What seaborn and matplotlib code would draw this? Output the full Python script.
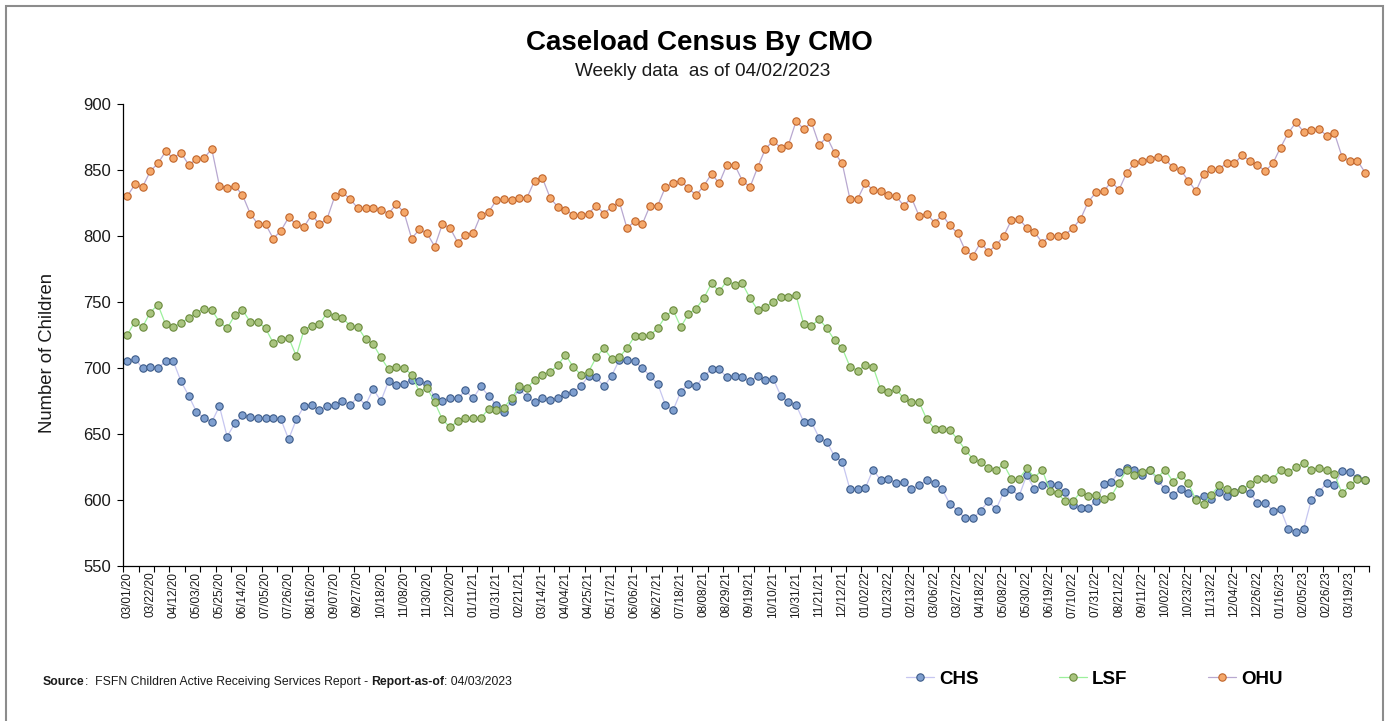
import numpy as np
import matplotlib.pyplot as plt
import pandas as pd
import seaborn as sns
from matplotlib.patches import Rectangle

# --- Weekly census values (03/01/20 .. 04/02/23) ---
chs = [705, 707, 700, 701, 700, 705, 705, 690, 679, 667, 662, 659, 671, 648, 658, 664, 663, 662, 662, 662,
       661, 646, 661, 671, 672, 668, 671, 672, 675, 672, 678, 672, 684, 675, 690, 687, 688, 691, 690, 688,
       678, 675, 677, 677, 683, 677, 686, 679, 672, 667, 675, 684, 678, 674, 677, 676, 677, 680, 682, 686,
       694, 693, 686, 694, 706, 706, 705, 700, 694, 688, 672, 668, 682, 688, 686, 694, 699, 699, 693, 694,
       693, 690, 694, 691, 692, 679, 674, 672, 659, 659, 647, 644, 633, 629, 608, 608, 609, 623, 615, 616,
       613, 614, 608, 611, 615, 613, 608, 597, 592, 586, 586, 592, 599, 593, 606, 608, 603, 619, 608, 611,
       612, 611, 606, 596, 594, 594, 599, 612, 614, 621, 624, 623, 619, 623, 615, 608, 604, 608, 605, 601,
       603, 601, 606, 603, 606, 608, 605, 598, 598, 592, 593, 578, 576, 578, 600, 606, 613, 611, 622, 621,
       617, 615]
lsf = [725, 735, 731, 742, 748, 733, 731, 734, 738, 742, 745, 744, 735, 730, 740, 744, 735, 735, 730, 719,
       722, 723, 709, 729, 732, 733, 742, 739, 738, 732, 731, 722, 718, 708, 699, 701, 700, 695, 682, 685,
       674, 661, 655, 660, 662, 662, 662, 669, 668, 670, 677, 686, 685, 691, 695, 697, 702, 710, 701, 695,
       697, 708, 715, 707, 708, 715, 724, 724, 725, 730, 739, 744, 731, 741, 745, 753, 764, 758, 766, 763,
       764, 753, 744, 746, 750, 754, 754, 755, 733, 732, 737, 730, 721, 715, 701, 698, 702, 701, 684, 682,
       684, 677, 674, 674, 661, 654, 654, 653, 646, 638, 631, 629, 624, 623, 627, 616, 616, 624, 617, 623,
       607, 605, 599, 599, 606, 603, 604, 601, 603, 613, 623, 619, 621, 623, 617, 623, 614, 619, 613, 600,
       597, 604, 611, 608, 606, 608, 612, 616, 617, 616, 623, 621, 625, 628, 623, 624, 623, 620, 605, 611,
       616, 615]
ohu = [830, 839, 837, 849, 855, 864, 859, 863, 854, 858, 859, 866, 838, 836, 838, 831, 817, 809, 809, 798,
       804, 814, 809, 807, 816, 809, 813, 830, 833, 828, 821, 821, 821, 820, 817, 824, 818, 798, 805, 802,
       792, 809, 806, 795, 801, 802, 816, 818, 827, 828, 827, 829, 829, 842, 844, 829, 822, 820, 816, 816,
       817, 823, 817, 822, 826, 806, 811, 809, 823, 823, 837, 840, 842, 836, 831, 838, 847, 840, 854, 854,
       842, 837, 852, 866, 872, 867, 869, 887, 881, 886, 869, 875, 863, 855, 828, 828, 840, 835, 834, 831,
       830, 823, 829, 815, 817, 810, 816, 808, 802, 789, 785, 795, 788, 793, 800, 812, 813, 806, 803, 795,
       800, 800, 801, 806, 813, 826, 833, 834, 841, 835, 848, 855, 857, 858, 860, 858, 852, 850, 842, 834,
       847, 851, 851, 855, 855, 861, 857, 854, 849, 855, 867, 878, 886, 879, 880, 881, 876, 878, 860, 857,
       857, 848]

# every third week is labelled on the axis
tick_labels = ["03/01/20", "03/22/20", "04/12/20", "05/03/20", "05/25/20", "06/14/20", "07/05/20",
               "07/26/20", "08/16/20", "09/07/20", "09/27/20", "10/18/20", "11/08/20", "11/30/20",
               "12/20/20", "01/11/21", "01/31/21", "02/21/21", "03/14/21", "04/04/21", "04/25/21",
               "05/17/21", "06/06/21", "06/27/21", "07/18/21", "08/08/21", "08/29/21", "09/19/21",
               "10/10/21", "10/31/21", "11/21/21", "12/12/21", "01/02/22", "01/23/22", "02/13/22",
               "03/06/22", "03/27/22", "04/18/22", "05/08/22", "05/30/22", "06/19/22", "07/10/22",
               "07/31/22", "08/21/22", "09/11/22", "10/02/22", "10/23/22", "11/13/22", "12/04/22",
               "12/26/22", "01/16/23", "02/05/23", "02/26/23", "03/19/23"]

df = pd.DataFrame({"week": np.arange(len(chs)), "CHS": chs, "LSF": lsf, "OHU": ohu})

sns.set_theme(style="white")
plt.rcParams["font.family"] = ["Liberation Sans", "DejaVu Sans"]
text_col = "#1a1a1a"

fig = plt.figure(figsize=(13.87, 7.21), dpi=100)
ax = fig.add_axes([0.0889, 0.215, 0.8981, 0.6408])

styles = {
    "CHS": dict(color="#c6c6f0", markerfacecolor="#7f9fcf", markeredgecolor="#3b5a88"),
    "LSF": dict(color="#9cf09c", markerfacecolor="#a9c47f", markeredgecolor="#6a8a3c"),
    "OHU": dict(color="#b8a8d0", markerfacecolor="#f5a86a", markeredgecolor="#c0652b"),
}
for name in ["CHS", "LSF", "OHU"]:
    sns.lineplot(data=df, x="week", y=name, ax=ax, label=name, marker="o",
                 markersize=5.3, markeredgewidth=0.8, linewidth=0.9, **styles[name])

ax.set_xlim(-0.5, len(chs) - 0.5)
ax.set_ylim(550, 900)
ax.set_yticks(range(550, 901, 50))
ax.set_xticks(np.arange(0, len(chs), 3))
ax.set_xticklabels(tick_labels, rotation=90)
ax.set_xticks(np.arange(-0.5, len(chs), 2), minor=True)
ax.set_xlabel("")
ax.set_ylabel("")

ax.tick_params(axis="x", which="major", length=0, pad=4, labelsize=8.5, labelcolor=text_col)
ax.tick_params(axis="x", which="minor", length=4, width=0.8, color="black", direction="out", bottom=True)
ax.tick_params(axis="y", length=4, width=0.8, color="black", direction="out", left=True,
               pad=5, labelsize=12, labelcolor=text_col)
sns.despine(ax=ax)
for side in ["left", "bottom"]:
    ax.spines[side].set_color("black")
    ax.spines[side].set_linewidth(0.9)

# --- titles ---
fig.text(0.5043, 0.9307, "Caseload Census By CMO", ha="center", va="baseline",
         fontsize=20, fontweight="bold", color="black")
fig.text(0.5065, 0.894, "Weekly data  as of 04/02/2023", ha="center", va="baseline",
         fontsize=13.7, color=text_col)
fig.text(0.0342, 0.511, "Number of Children", rotation=90, ha="center", va="center",
         fontsize=13.3, color=text_col)

# --- legend at the bottom right ---
handles, labels = ax.get_legend_handles_labels()
if ax.get_legend() is not None:
    ax.get_legend().remove()
fig.legend(handles, labels, loc="center", bbox_to_anchor=(0.789, 0.058), ncol=3, frameon=False,
           prop=dict(weight="bold", size=13.5), handlelength=1.5, handletextpad=0.27,
           columnspacing=4.27, labelcolor="black")

# --- source footer, mixed bold/normal pieces ---
renderer = fig.canvas.get_renderer()
pieces = [("Source", "bold"), (":  FSFN Children Active Receiving Services Report - ", "normal"),
          ("Report-as-of", "bold"), (": 04/03/2023", "normal")]
x_px = 43.0
for s, w in pieces:
    t = fig.text(x_px / fig.bbox.width, 0.05, s, ha="left", va="baseline", fontsize=8.8,
                 fontweight=w, color=text_col)
    fp = t.get_fontproperties()
    w1, _, _ = renderer.get_text_width_height_descent(s + "|", fp, ismath=False)
    w2, _, _ = renderer.get_text_width_height_descent("|", fp, ismath=False)
    x_px += w1 - w2

# outer frame
fig.add_artist(Rectangle((6 / 1387, -0.05), 1377 / 1387, (721 - 6) / 721 + 0.05,
                         transform=fig.transFigure, fill=False, edgecolor="#8c8c8c", lw=1.5))

fig.savefig("out.png", dpi=100)
